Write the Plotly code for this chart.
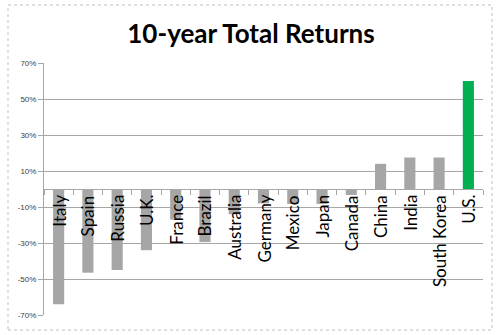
import plotly.graph_objects as go

categories = ["Italy", "Spain", "Russia", "U.K.", "France", "Brazil", "Australia",
              "Germany", "Mexico", "Japan", "Canada", "China", "India", "South Korea", "U.S."]
returns = [-64, -46.5, -45, -34, -17, -29.5, -14, -8, -8.3, -8.3, -3.3, 14, 17.5, 17.5, 60]
highlight = "U.S."
tick_vals = [-70, -50, -30, -10, 10, 30, 50, 70]
tick_text = ["-70%", "-50%", "-30%", "-10%", "10%", "30%", "50%", "70%"]

colors = ["#00B050" if c == highlight else "#A6A6A6" for c in categories]

fig = go.Figure()
fig.add_trace(go.Bar(x=categories, y=returns, marker=dict(color=colors, line=dict(width=0)),
                     hoverinfo="x+y"))

for c in categories:
    fig.add_annotation(x=c, y=0, text=c, textangle=-90, showarrow=False,
                       xanchor="center", yanchor="top", yshift=-4,
                       font=dict(family="Lato", size=17, color="#000000"))

W, H = 500, 335
ml, mr, mt, mb = 44, 17, 63, 20
pw, ph = W - ml - mr, H - mt - mb
bx0, bx1, by0, by1 = 8, 492, 5, 330
fig.add_shape(type="rect", xref="paper", yref="paper",
              x0=(bx0 - ml) / pw, x1=(bx1 - ml) / pw,
              y0=(H - mb - by1) / ph, y1=(H - mb - by0) / ph,
              line=dict(color="#BFBFBF", width=1, dash="dot"), layer="below")

fig.update_layout(
    width=W, height=H,
    margin=dict(l=ml, r=mr, t=mt, b=mb),
    paper_bgcolor="white", plot_bgcolor="white",
    bargap=0.62,
    showlegend=False,
    title=dict(text="<b>10-year Total Returns</b>", x=251 / W, xref="container", xanchor="center",
               y=1 - 34 / H, yref="container", yanchor="middle",
               font=dict(family="Lato", size=26, color="#000000")),
    yaxis=dict(range=[-70, 70], tickvals=tick_vals, ticktext=tick_text,
               showgrid=True, gridcolor="#A6A6A6", gridwidth=1,
               zeroline=True, zerolinecolor="#A6A6A6", zerolinewidth=1,
               showline=True, linecolor="#A6A6A6", linewidth=1,
               ticks="outside", ticklen=5, tickcolor="#A6A6A6",
               tickfont=dict(family="Liberation Sans", size=8, color="#404040")),
    xaxis=dict(showticklabels=False, showgrid=False, showline=True,
               linecolor="#A6A6A6", linewidth=1, anchor="free", position=0.5,
               ticks="outside", ticklen=5, tickcolor="#A6A6A6", tickson="boundaries"),
)

fig.write_html("out.html")
